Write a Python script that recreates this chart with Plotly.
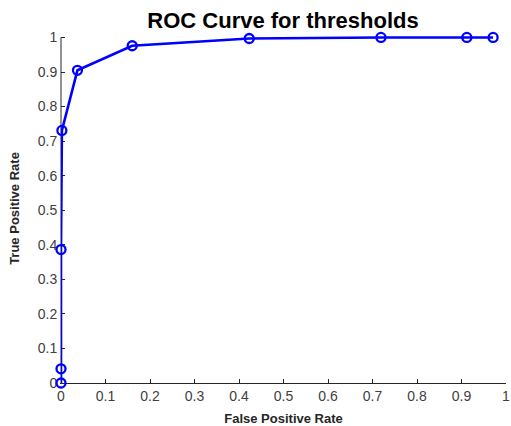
import plotly.graph_objects as go

fpr = [0.0, 0.0, 0.0, 0.002, 0.037, 0.160, 0.423, 0.719, 0.912, 0.971]
tpr = [0.0, 0.041, 0.386, 0.731, 0.905, 0.976, 0.997, 1.0, 1.0, 1.0]
tick_vals = [0, 0.1, 0.2, 0.3, 0.4, 0.5, 0.6, 0.7, 0.8, 0.9, 1]
tick_text = ["0", "0.1", "0.2", "0.3", "0.4", "0.5", "0.6", "0.7", "0.8", "0.9", "1"]

fig = go.Figure()
fig.add_trace(go.Scatter(
    x=fpr, y=tpr, mode="lines+markers",
    line=dict(color="#0000ff", width=2.6),
    marker=dict(symbol="circle-open", size=9, color="#0000ff", line=dict(width=2.3, color="#0000ff")),
    cliponaxis=False, showlegend=False,
))

axis_common = dict(
    tickvals=tick_vals, ticktext=tick_text,
    showgrid=False, zeroline=False, showline=True, linewidth=1,
    ticks="inside", ticklen=4, tickcolor="#262626", tickwidth=1,
    tickfont=dict(family="Liberation Sans, Arial", size=14, color="#404040"),
    fixedrange=True, automargin=False, ticklabeloverflow="allow", layer="below traces",
)

# y range slightly above 1 so the line along y=1 is not clipped; visible y axis line drawn to 1 only
y_top = 1.01
fig.update_layout(
    width=511, height=426,
    margin=dict(l=61, r=5, t=37 - 346 * (y_top - 1), b=43),
    paper_bgcolor="white", plot_bgcolor="white",
    title=dict(text="<b>ROC Curve for thresholds</b>", x=283/511, xanchor="center", y=1 - 20/426, yanchor="middle",
               font=dict(family="Liberation Sans, Arial", size=22, color="black")),
    xaxis=dict(axis_common, range=[0, 1], linecolor="#262626",
               title=dict(text="<b>False Positive Rate</b>",
                          font=dict(family="Liberation Sans, Arial", size=13, color="#262626"))),
    yaxis=dict(axis_common, range=[0, y_top], linecolor="rgba(0,0,0,0)",
               title=dict(text="<b>True Positive Rate</b>",
                          font=dict(family="Liberation Sans, Arial", size=13, color="#262626"))),
    shapes=[dict(type="line", xref="paper", yref="y", x0=0, x1=0, y0=0, y1=1,
                 line=dict(color="#262626", width=1), layer="below")],
)

fig.write_html(
    "out.html",
    config={"displayModeBar": False},
    post_script="document.body.style.margin='0';document.body.style.overflow='hidden';",
)
